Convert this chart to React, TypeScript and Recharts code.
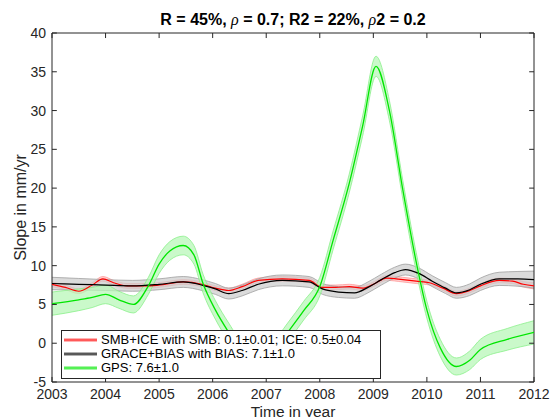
import React from "react";
import { ComposedChart, Area, Line, XAxis, YAxis, ReferenceLine, ReferenceArea } from "recharts";

const years = [2003, 2004, 2005, 2006, 2007, 2008, 2009, 2010, 2011, 2012];
const yTicks = [-5, 0, 5, 10, 15, 20, 25, 30, 35, 40];

// SMB+ICE (red)
const smbTime = [2003.0, 2003.25, 2003.5, 2003.75, 2003.95, 2004.15, 2004.4, 2004.8, 2005.1, 2005.45, 2005.8, 2006.05, 2006.3, 2006.55, 2006.85, 2007.3, 2007.8, 2008.05, 2008.3, 2008.55, 2008.8, 2009.0, 2009.25, 2009.55, 2009.8, 2010.05, 2010.3, 2010.55, 2010.8, 2011.0, 2011.35, 2011.6, 2011.8, 2012.0];
const smbValue = [7.6, 7.2, 6.7, 7.5, 8.3, 7.8, 7.4, 7.4, 7.6, 7.9, 7.6, 7.1, 6.8, 7.3, 8.1, 8.3, 8.1, 7.2, 7.2, 7.3, 7.1, 7.6, 8.4, 8.2, 8.0, 7.8, 7.1, 6.4, 6.8, 7.4, 8.1, 8.0, 7.6, 7.4];
const smbErr = [0.3, 0.3, 0.3, 0.3, 0.3, 0.3, 0.3, 0.3, 0.3, 0.3, 0.3, 0.3, 0.3, 0.3, 0.3, 0.3, 0.3, 0.3, 0.3, 0.3, 0.3, 0.3, 0.3, 0.3, 0.3, 0.3, 0.3, 0.3, 0.3, 0.3, 0.3, 0.3, 0.35, 0.4];

// GRACE+BIAS (black)
const graceTime = [2003.0, 2003.5, 2004.0, 2004.5, 2005.0, 2005.45, 2005.8, 2006.05, 2006.3, 2006.55, 2006.85, 2007.3, 2007.8, 2008.05, 2008.35, 2008.65, 2008.9, 2009.15, 2009.4, 2009.6, 2009.85, 2010.1, 2010.35, 2010.55, 2010.8, 2011.0, 2011.35, 2011.7, 2012.0];
const graceValue = [7.7, 7.6, 7.5, 7.4, 7.6, 7.9, 7.5, 7.0, 6.4, 6.8, 7.6, 8.1, 7.9, 7.0, 6.6, 6.5, 7.2, 8.2, 9.1, 9.5, 9.0, 8.0, 7.1, 6.5, 6.9, 7.6, 8.3, 8.3, 8.2];
const graceErr = [0.8, 0.75, 0.7, 0.7, 0.7, 0.7, 0.7, 0.7, 0.7, 0.7, 0.7, 0.7, 0.7, 0.7, 0.7, 0.7, 0.7, 0.7, 0.7, 0.7, 0.7, 0.7, 0.7, 0.7, 0.75, 0.8, 0.85, 0.95, 1.1];

// GPS (green)
const gpsTime = [2003.0, 2003.5, 2003.75, 2004.0, 2004.25, 2004.52, 2004.8, 2005.0, 2005.2, 2005.45, 2005.65, 2005.82, 2006.05, 2006.3, 2006.6, 2006.85, 2007.1, 2007.4, 2007.7, 2008.0, 2008.25, 2008.55, 2008.8, 2009.05, 2009.3, 2009.55, 2009.8, 2010.0, 2010.25, 2010.55, 2010.8, 2011.0, 2011.5, 2012.0];
const gpsValue = [5.1, 5.6, 5.9, 6.3, 5.6, 5.0, 7.4, 10.2, 11.9, 12.6, 11.4, 7.7, 4.3, 1.4, -1.6, -2.5, -1.3, 1.4, 4.2, 7.3, 13.3, 20.6, 28.0, 35.7, 30.0, 19.8, 10.5, 4.3, -0.6, -3.0, -2.2, -0.8, 0.5, 1.4];
const gpsErr = [1.5, 1.4, 1.3, 1.2, 1.1, 1.1, 1.1, 1.2, 1.2, 1.2, 1.2, 1.2, 1.2, 1.2, 1.2, 1.2, 1.2, 1.2, 1.2, 1.2, 1.2, 1.2, 1.3, 1.3, 1.3, 1.2, 1.2, 1.1, 1.1, 1.1, 1.2, 1.3, 1.4, 1.5];

const legendItems = [
  { label: "SMB+ICE with SMB: 0.1\u00b10.01; ICE: 0.5\u00b10.04", color: "#ff0000", halo: "#ffb3b3" },
  { label: "GRACE+BIAS with BIAS: 7.1\u00b11.0", color: "#000000", halo: "#b0b0b0" },
  { label: "GPS: 7.6\u00b11.0", color: "#00ee00", halo: "#a8f5a8" },
];

const rows = (t: number[], v: number[], e: number[]) =>
  t.map((x, i) => ({ t: x, v: v[i], band: [v[i] - e[i], v[i] + e[i]] }));

const smbData = rows(smbTime, smbValue, smbErr);
const graceData = rows(graceTime, graceValue, graceErr);
const gpsData = rows(gpsTime, gpsValue, gpsErr);

const FONT = "'Liberation Sans', Arial, Helvetica, sans-serif";
const AXIS = "#262626";

export default function App() {
  const xTick = 0.65; // tick length in y units (about 5px)
  const yTick = 0.09; // tick length in x units
  return (
    <div style={{ position: "absolute", left: 0, top: 0, width: 553, height: 417, background: "#fff", fontFamily: FONT }}>
      <div
        style={{
          position: "absolute",
          top: 12,
          left: 52,
          width: 482,
          textAlign: "center",
          fontSize: 16,
          lineHeight: "16px",
          fontWeight: "bold",
          color: "#000",
          whiteSpace: "nowrap",
        }}
      >
        R = 45%, <i style={{ fontFamily: "'Liberation Serif', serif", fontWeight: "normal" }}>ρ</i> = 0.7; R2 = 22%,{" "}
        <i style={{ fontFamily: "'Liberation Serif', serif", fontWeight: "normal" }}>ρ</i>2 = 0.2
      </div>
      <ComposedChart width={553} height={417} margin={{ top: 33, right: 19, bottom: 0, left: 0 }}>
        <XAxis
          dataKey="t"
          type="number"
          domain={[2003, 2012]}
          ticks={years}
          allowDataOverflow
          tickLine={false}
          axisLine={false}
          tickSize={0}
          tickMargin={7}
          height={35}
          tick={{ fill: AXIS, fontSize: 14, fontFamily: FONT }}
          label={{ value: "Time in year", position: "insideBottom", offset: 0, fill: AXIS, fontSize: 15.5, fontFamily: FONT }}
        />
        <YAxis
          type="number"
          domain={[-5, 40]}
          ticks={yTicks}
          allowDataOverflow
          tickLine={false}
          axisLine={false}
          tickSize={0}
          tickMargin={6}
          width={52}
          tick={{ fill: AXIS, fontSize: 14, fontFamily: FONT }}
          label={{
            value: "Slope in mm/yr",
            angle: -90,
            position: "insideLeft",
            offset: 20,
            fill: AXIS,
            fontSize: 16,
            fontFamily: FONT,
            style: { textAnchor: "middle" },
          }}
        />

        <Area data={smbData} dataKey="band" type="monotone" fill="#ffc4c4" fillOpacity={0.8} stroke="#ff9a9a" strokeWidth={0.8} isAnimationActive={false} />
        <Line data={smbData} dataKey="v" type="monotone" stroke="#ff0000" strokeWidth={1.2} dot={false} isAnimationActive={false} />

        <Area data={graceData} dataKey="band" type="monotone" fill="#cccccc" fillOpacity={0.7} stroke="#a0a0a0" strokeWidth={0.8} isAnimationActive={false} />
        <Line data={graceData} dataKey="v" type="monotone" stroke="#000000" strokeWidth={1.2} dot={false} isAnimationActive={false} />

        <Area data={gpsData} dataKey="band" type="monotone" fill="#b8f7b8" fillOpacity={0.75} stroke="#8af08a" strokeWidth={0.8} isAnimationActive={false} />
        <Line data={gpsData} dataKey="v" type="monotone" stroke="#00e600" strokeWidth={1.3} dot={false} isAnimationActive={false} />

        {years.map((yr) => (
          <ReferenceLine key={"xb" + yr} segment={[{ x: yr, y: -5 }, { x: yr, y: -5 + xTick }]} stroke={AXIS} strokeWidth={1} />
        ))}
        {years.map((yr) => (
          <ReferenceLine key={"xt" + yr} segment={[{ x: yr, y: 40 }, { x: yr, y: 40 - xTick }]} stroke={AXIS} strokeWidth={1} />
        ))}
        {yTicks.map((v) => (
          <ReferenceLine key={"yl" + v} segment={[{ x: 2003, y: v }, { x: 2003 + yTick, y: v }]} stroke={AXIS} strokeWidth={1} />
        ))}
        {yTicks.map((v) => (
          <ReferenceLine key={"yr" + v} segment={[{ x: 2012, y: v }, { x: 2012 - yTick, y: v }]} stroke={AXIS} strokeWidth={1} />
        ))}
        <ReferenceArea x1={2003} x2={2012} y1={-5} y2={40} fill="none" stroke={AXIS} strokeWidth={1} />
      </ComposedChart>

      <div
        style={{
          position: "absolute",
          left: 61,
          top: 330,
          width: 318,
          height: 43,
          padding: "2px 0",
          background: "#fff",
          border: `1px solid ${AXIS}`,
          fontSize: 13,
          color: "#000",
        }}
      >
        {legendItems.map((item) => (
          <div key={item.label} style={{ display: "flex", alignItems: "center", height: 14, whiteSpace: "nowrap" }}>
            <svg width={35} height={8} style={{ marginLeft: 1, marginRight: 3, flex: "none" }}>
              <line x1={1} y1={4} x2={34} y2={4} stroke={item.halo} strokeWidth={4} />
              <line x1={1} y1={4} x2={34} y2={4} stroke={item.color} strokeWidth={1.2} />
            </svg>
            <span style={{ lineHeight: "14px" }}>{item.label}</span>
          </div>
        ))}
      </div>
    </div>
  );
}
